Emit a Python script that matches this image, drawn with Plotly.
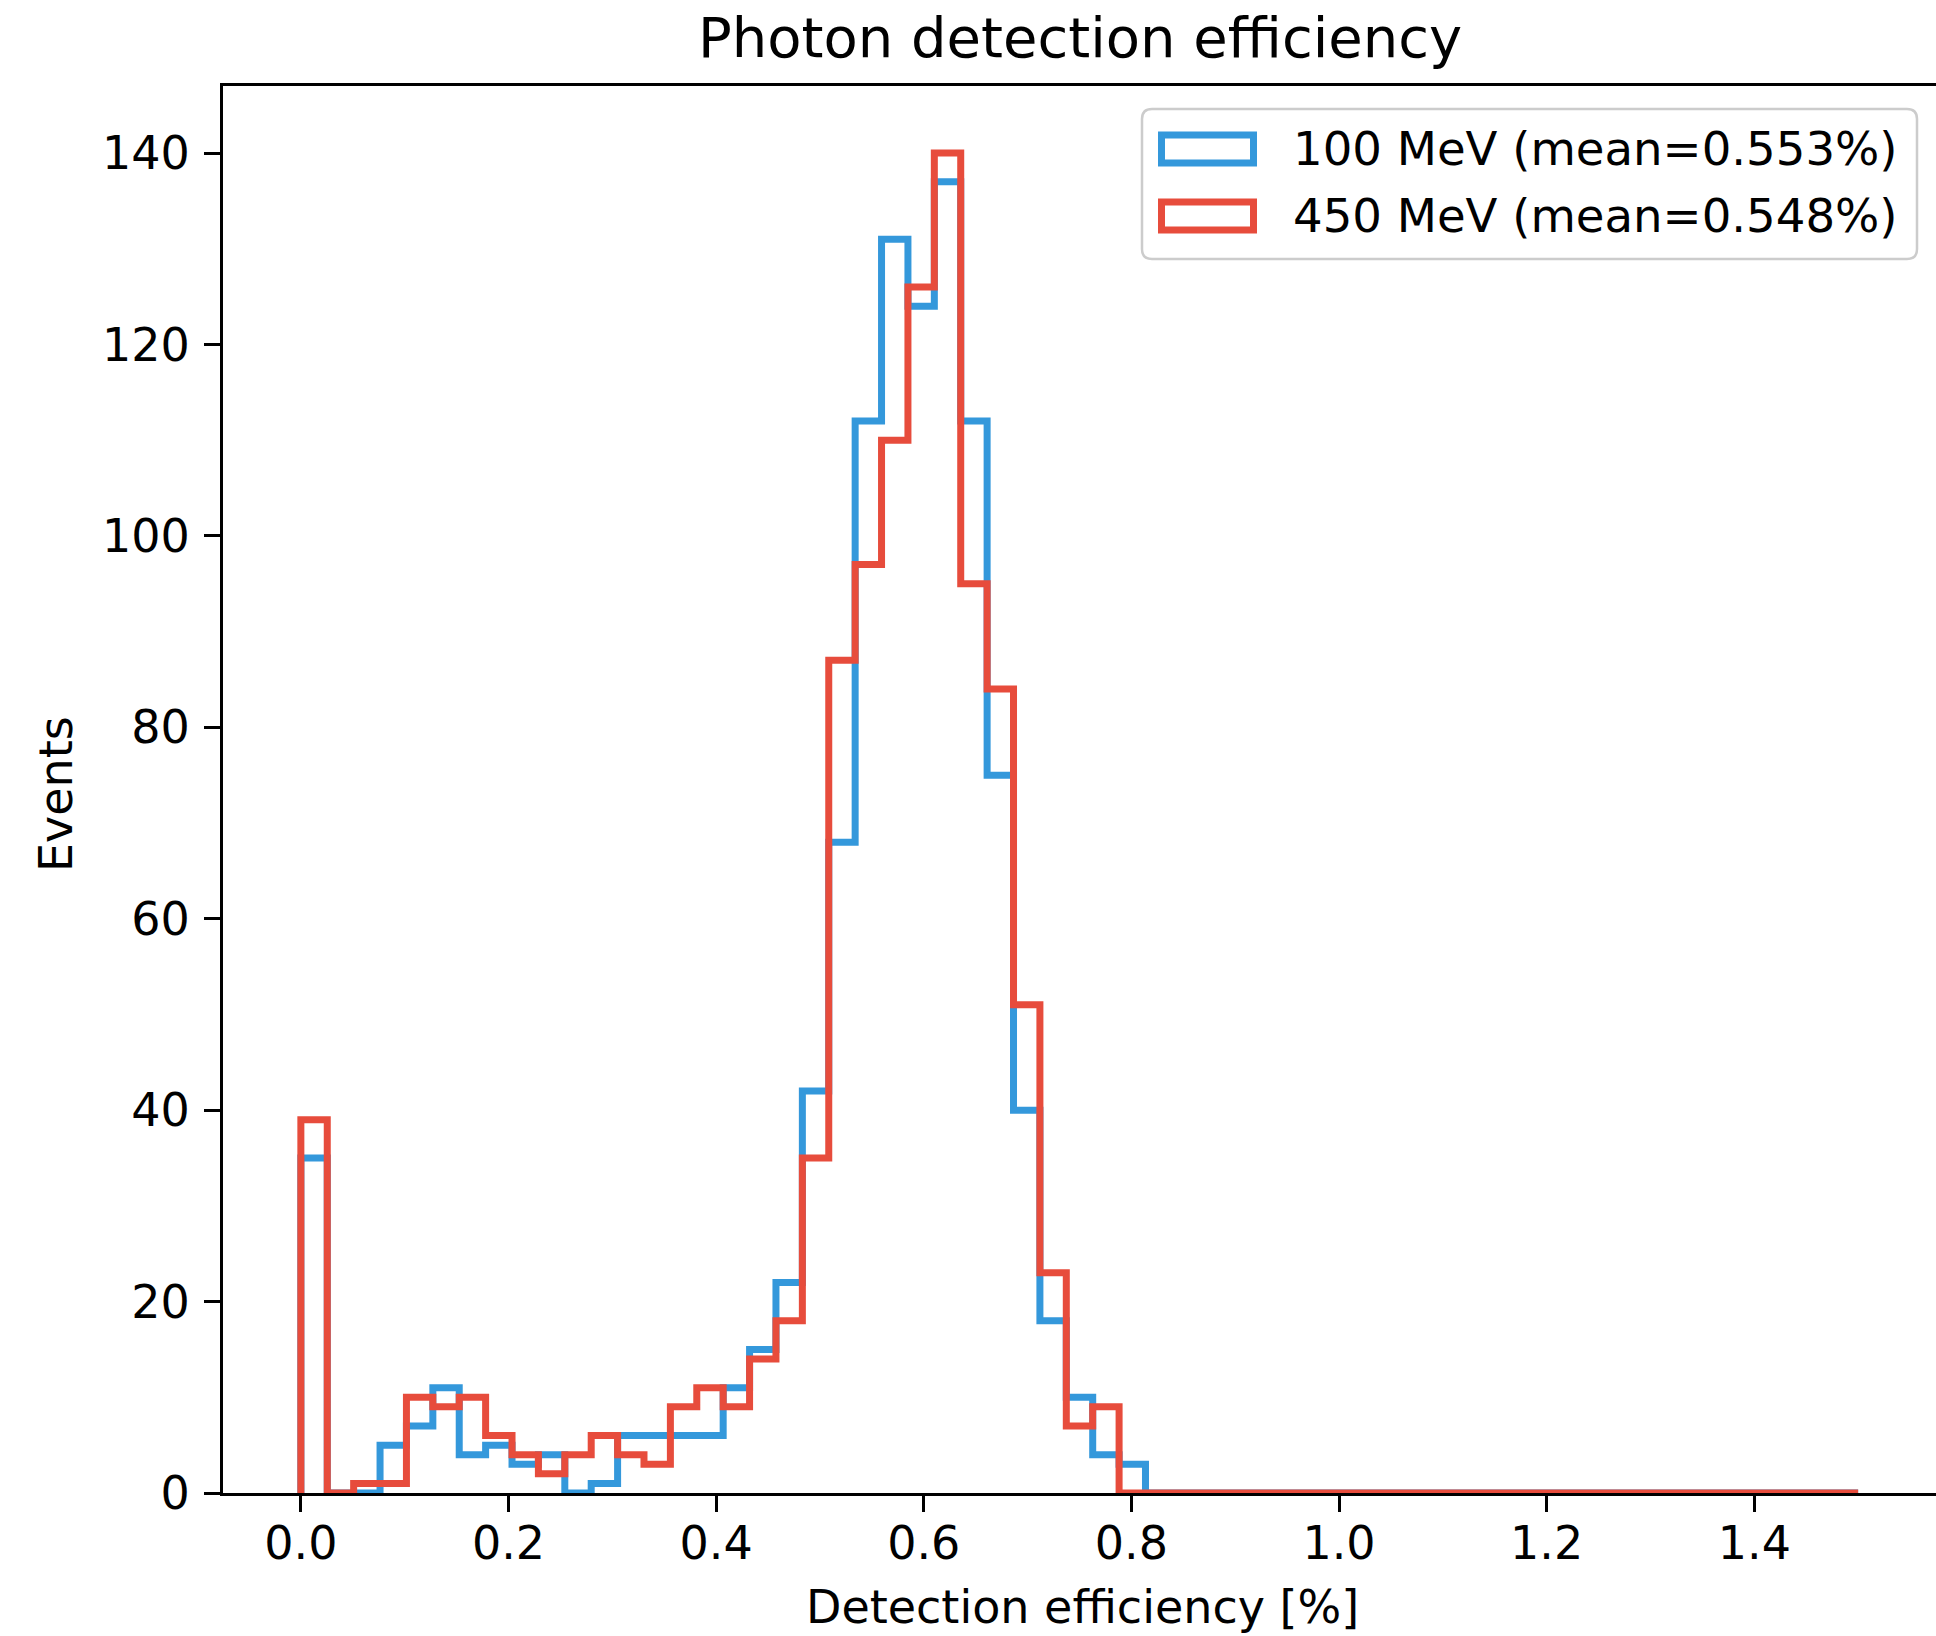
import plotly.graph_objects as go

# ---- data ----
bin_start = 0.0
bin_end = 1.5
n_bins = 59

counts_100 = [35, 0, 0, 5, 7, 11, 4, 5, 3, 4, 0, 1, 6, 6, 6, 6, 11, 15, 22, 42,
              68, 112, 131, 124, 137, 112, 75, 40, 18, 10, 4, 3, 0, 0, 0, 0, 0, 0, 0, 0,
              0, 0, 0, 0, 0, 0, 0, 0, 0, 0, 0, 0, 0, 0, 0, 0, 0, 0, 0]
counts_450 = [39, 0, 1, 1, 10, 9, 10, 6, 4, 2, 4, 6, 4, 3, 9, 11, 9, 14, 18, 35,
              87, 97, 110, 126, 140, 95, 84, 51, 23, 7, 9, 0, 0, 0, 0, 0, 0, 0, 0, 0,
              0, 0, 0, 0, 0, 0, 0, 0, 0, 0, 0, 0, 0, 0, 0, 0, 0, 0, 0]
series_names = ["100 MeV (mean=0.553%)", "450 MeV (mean=0.548%)"]
series_colors = ["#3498db", "#e74c3c"]

x_tick_vals = [0.0, 0.2, 0.4, 0.6, 0.8, 1.0, 1.2, 1.4]
x_tick_text = ["0.0", "0.2", "0.4", "0.6", "0.8", "1.0", "1.2", "1.4"]
y_tick_vals = [0, 20, 40, 60, 80, 100, 120, 140]

title_text = "Photon detection efficiency"
x_title = "Detection efficiency [%]"
y_title = "Events"

# ---- layout geometry (pixels) ----
W, H = 1936, 1636
L, R, T, B = 223, 0, 86, 143
PW, PH = W - L - R, H - T - B
FONT = "DejaVu Sans"
LW = 7


def px_x(px):
    return (px - L) / PW


def px_y(py):
    return (H - B - py) / PH


def step_path(counts):
    w = (bin_end - bin_start) / n_bins
    edges = [bin_start + w * i for i in range(n_bins + 1)]
    xs = [edges[0]] + edges[:n_bins] + [edges[n_bins], edges[n_bins]]
    ys = [0] + list(counts) + [counts[-1], 0]
    return xs, ys


fig = go.Figure()
for counts, name, color in zip([counts_100, counts_450], series_names, series_colors):
    xs, ys = step_path(counts)
    fig.add_trace(go.Scatter(x=xs, y=ys, mode="lines", name=name,
                             line=dict(color=color, width=LW, shape="hv"),
                             hoverinfo="skip", showlegend=False))

axis_common = dict(showline=True, linecolor="black", linewidth=3,
                   ticks="outside", ticklen=16, tickwidth=3, tickcolor="black",
                   showgrid=False, zeroline=False,
                   tickfont=dict(family=FONT, size=46, color="black"))

fig.update_layout(
    width=W, height=H,
    margin=dict(l=L, r=R, t=T, b=B, pad=0),
    paper_bgcolor="white", plot_bgcolor="white",
    showlegend=False,
    xaxis=dict(range=[-0.075, 1.575], tickvals=x_tick_vals, ticktext=x_tick_text,
               mirror=True, ticklabelstandoff=-8, **axis_common),
    yaxis=dict(range=[0, 147], tickvals=y_tick_vals, mirror=False,
               ticklabelstandoff=5, **axis_common),
)

annotations = [
    dict(text=title_text, x=px_x(1080), y=px_y(37), xref="paper", yref="paper",
         xanchor="center", yanchor="middle", showarrow=False,
         font=dict(family=FONT, size=56, color="black")),
    dict(text=x_title, x=px_x(1082), y=px_y(1607), xref="paper", yref="paper",
         xanchor="center", yanchor="middle", showarrow=False,
         font=dict(family=FONT, size=46, color="black")),
    dict(text=y_title, x=px_x(56), y=px_y(794), xref="paper", yref="paper",
         xanchor="center", yanchor="middle", showarrow=False, textangle=-90,
         font=dict(family=FONT, size=46, color="black")),
]

# legend (drawn manually to mimic outlined patch handles)
bx0, bx1, by0, by1, r = 1142, 1917, 109, 259, 10
X = lambda p: px_x(p)
Y = lambda p: px_y(p)
path = (f"M {X(bx0 + r)},{Y(by0)} L {X(bx1 - r)},{Y(by0)} Q {X(bx1)},{Y(by0)} {X(bx1)},{Y(by0 + r)} "
        f"L {X(bx1)},{Y(by1 - r)} Q {X(bx1)},{Y(by1)} {X(bx1 - r)},{Y(by1)} "
        f"L {X(bx0 + r)},{Y(by1)} Q {X(bx0)},{Y(by1)} {X(bx0)},{Y(by1 - r)} "
        f"L {X(bx0)},{Y(by0 + r)} Q {X(bx0)},{Y(by0)} {X(bx0 + r)},{Y(by0)} Z")
shapes = [dict(type="path", path=path, xref="paper", yref="paper",
               line=dict(color="#cccccc", width=2.5), fillcolor="rgba(255,255,255,0.85)",
               layer="above")]
row_centers = [149, 216]
for yc, name, color in zip(row_centers, series_names, series_colors):
    shapes.append(dict(type="rect", xref="paper", yref="paper",
                       x0=X(1161.5), x1=X(1253.5), y0=Y(yc - 14), y1=Y(yc + 14),
                       line=dict(color=color, width=LW), fillcolor="rgba(0,0,0,0)",
                       layer="above"))
    annotations.append(dict(text=name, x=X(1291), y=Y(yc), xref="paper", yref="paper",
                            xanchor="left", yanchor="middle", showarrow=False,
                            font=dict(family=FONT, size=46.6, color="black")))

fig.update_layout(shapes=shapes, annotations=annotations)
fig.write_html("out.html")
